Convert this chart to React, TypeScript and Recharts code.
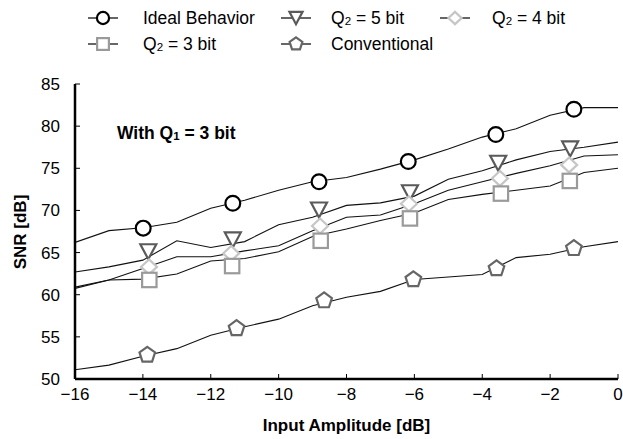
import React from 'react';
import { ComposedChart, Customized, Line, Scatter, XAxis, YAxis } from 'recharts';

// simulated SNR curves, sampled every 1 dB
const amplitudes = [-16, -15, -14, -13, -12, -11, -10, -9, -8, -7, -6, -5, -4, -3, -2, -1, 0];
const idealSnr = [66.2, 67.6, 67.95, 68.6, 70.25, 71.2, 72.4, 73.4, 73.9, 74.9, 76.0, 77.3, 78.7, 79.7, 81.3, 82.2, 82.2];
const q5Snr = [62.7, 63.3, 64.1, 66.4, 65.6, 66.3, 68.3, 69.2, 70.6, 70.9, 71.7, 73.7, 74.7, 76.0, 77.0, 77.5, 78.1];
const q4Snr = [60.9, 61.75, 63.1, 64.5, 64.5, 65.2, 65.8, 67.6, 69.2, 69.45, 70.8, 72.4, 73.4, 74.4, 75.3, 76.45, 76.6];
const q3Snr = [60.75, 61.75, 61.85, 62.45, 64.0, 64.3, 65.1, 66.9, 67.8, 68.8, 69.7, 71.3, 71.9, 72.4, 72.9, 74.5, 75.0];
const convSnr = [51.1, 51.65, 52.7, 53.6, 55.2, 56.2, 57.1, 58.7, 59.7, 60.4, 61.8, 62.1, 62.4, 64.4, 64.8, 65.7, 66.3];

// marker positions (drawn sparsely on top of the curves)
const idealMarkX = [-13.99, -11.35, -8.81, -6.18, -3.6, -1.3];
const idealMarkY = [67.9, 70.85, 73.4, 75.8, 79.0, 82.0];
const q5MarkX = [-13.84, -11.35, -8.81, -6.13, -3.53, -1.41];
const q5MarkY = [65.1, 66.5, 70.05, 72.1, 75.6, 77.3];
const q4MarkX = [-13.82, -11.4, -8.78, -6.16, -3.48, -1.44];
const q4MarkY = [63.3, 64.9, 68.15, 70.8, 73.8, 75.4];
const q3MarkX = [-13.81, -11.37, -8.76, -6.13, -3.45, -1.42];
const q3MarkY = [61.75, 63.4, 66.4, 69.05, 72.0, 73.5];
const convMarkX = [-13.87, -11.24, -8.66, -6.03, -3.58, -1.3];
const convMarkY = [52.85, 56.0, 59.3, 61.8, 63.1, 65.5];

const xTicks = [-16, -14, -12, -10, -8, -6, -4, -2, 0];
const yTicks = [50, 55, 60, 65, 70, 75, 80, 85];

const toRows = (xs: number[], ys: number[]) => xs.map((x, i) => ({ x, y: ys[i] }));

type Kind = 'circle' | 'triangle' | 'diamond' | 'square' | 'pentagon';

const FONT = '"Liberation Sans", Arial, Helvetica, sans-serif';

function Marker({ kind, cx, cy, s = 1 }: { kind: Kind; cx: number; cy: number; s?: number }) {
  const sw = 2.2;
  if (kind === 'circle') {
    return <circle cx={cx} cy={cy} r={7.4 * s} fill="#fff" stroke="#000" strokeWidth={sw} />;
  }
  if (kind === 'square') {
    const h = 7.2 * s;
    return <rect x={cx - h} y={cy - h} width={2 * h} height={2 * h} fill="#fff" stroke="#9a9a9a" strokeWidth={sw} />;
  }
  if (kind === 'diamond') {
    const w = 8 * s;
    const h = 7.5 * s;
    return (
      <polygon
        points={`${cx},${cy - h} ${cx + w},${cy} ${cx},${cy + h} ${cx - w},${cy}`}
        fill="#fff"
        stroke="#c6c6c6"
        strokeWidth={sw}
      />
    );
  }
  if (kind === 'triangle') {
    const w = 8 * s;
    const h = 7.5 * s;
    return (
      <polygon
        points={`${cx - w},${cy - h} ${cx + w},${cy - h} ${cx},${cy + h}`}
        fill="#fff"
        stroke="#5a5a5a"
        strokeWidth={sw}
      />
    );
  }
  const r = 8.2 * s;
  const pts = [0, 1, 2, 3, 4]
    .map((k) => {
      const a = -Math.PI / 2 + (k * 2 * Math.PI) / 5;
      return `${cx + r * Math.cos(a)},${cy + r * Math.sin(a)}`;
    })
    .join(' ');
  return <polygon points={pts} fill="#fff" stroke="#666" strokeWidth={sw} />;
}

const shapeOf = (kind: Kind) => (p: any) => <Marker kind={kind} cx={p.cx} cy={p.cy} />;

const minus = (v: number) => (v < 0 ? `\u2212${-v}` : `${v}`);

function QLabel({ x, y, bits, size }: { x: number; y: number; bits: number; size: number }) {
  return (
    <text x={x} y={y} fontSize={size} fontFamily={FONT} fill="#000">
      Q<tspan fontSize={size * 0.66} dy={1}>2</tspan>
      <tspan dy={-1}>{` = ${bits} bit`}</tspan>
    </text>
  );
}

function LegendItem({ kind, x, y, children }: { kind: Kind; x: number; y: number; children: React.ReactNode }) {
  return (
    <g>
      <line x1={x - 15} x2={x + 15} y1={y} y2={y} stroke="#000" strokeWidth={1.2} />
      <Marker kind={kind} cx={x} cy={y} s={0.82} />
      {children}
    </g>
  );
}

function Extras() {
  const fs = 17.5;
  return (
    <g>
      <LegendItem kind="circle" x={103} y={18}>
        <text x={143} y={24} fontSize={fs} fontFamily={FONT}>Ideal Behavior</text>
      </LegendItem>
      <LegendItem kind="triangle" x={296} y={18}>
        <QLabel x={331} y={24} bits={5} size={fs} />
      </LegendItem>
      <LegendItem kind="diamond" x={455} y={18}>
        <QLabel x={492} y={24} bits={4} size={fs} />
      </LegendItem>
      <LegendItem kind="square" x={103} y={44}>
        <QLabel x={143} y={50} bits={3} size={fs} />
      </LegendItem>
      <LegendItem kind="pentagon" x={296} y={44}>
        <text x={331} y={50} fontSize={fs} fontFamily={FONT}>Conventional</text>
      </LegendItem>

      <text x={117} y={139} fontSize={17.5} fontWeight="bold" fontFamily={FONT}>
        With Q<tspan fontSize={11.5} dy={1}>1</tspan>
        <tspan dy={-1}> = 3 bit</tspan>
      </text>

      <text
        x={0}
        y={0}
        transform="translate(26,232) rotate(-90)"
        textAnchor="middle"
        fontSize={17}
        fontWeight="bold"
        fontFamily={FONT}
      >
        SNR [dB]
      </text>
    </g>
  );
}

const series: { kind: Kind; line: number[]; mx: number[]; my: number[] }[] = [
  { kind: 'circle', line: idealSnr, mx: idealMarkX, my: idealMarkY },
  { kind: 'triangle', line: q5Snr, mx: q5MarkX, my: q5MarkY },
  { kind: 'diamond', line: q4Snr, mx: q4MarkX, my: q4MarkY },
  { kind: 'square', line: q3Snr, mx: q3MarkX, my: q3MarkY },
  { kind: 'pentagon', line: convSnr, mx: convMarkX, my: convMarkY },
];

const blankTick = () => <g />;

export default function App() {
  const tickStyle = { fill: '#000', fontSize: 17, fontFamily: FONT };
  return (
    <div style={{ position: 'absolute', left: 0, top: 0, background: '#fff' }}>
      <ComposedChart
        width={623}
        height={439}
        margin={{ top: 84, right: 5, bottom: 0, left: 0 }}
        style={{ fontFamily: FONT }}
      >
        <XAxis
          xAxisId="b"
          dataKey="x"
          type="number"
          domain={[-16, 0]}
          ticks={xTicks}
          tickFormatter={minus}
          allowDataOverflow
          height={60}
          tickSize={-5}
          tickMargin={14}
          tick={tickStyle}
          axisLine={{ stroke: '#000', strokeWidth: 2.5 }}
          tickLine={{ stroke: '#000', strokeWidth: 1 }}
          label={{
            value: 'Input Amplitude [dB]',
            position: 'insideBottom',
            offset: 8,
            style: { fontSize: 17, fontWeight: 'bold', fill: '#000', fontFamily: FONT },
          }}
        />
        <XAxis
          xAxisId="t"
          orientation="top"
          dataKey="x"
          type="number"
          domain={[-16, 0]}
          ticks={xTicks}
          allowDataOverflow
          height={0}
          tickSize={-5}
          tick={blankTick}
          axisLine={{ stroke: '#000', strokeWidth: 2.5 }}
          tickLine={{ stroke: '#000', strokeWidth: 1 }}
        />
        <YAxis
          yAxisId="l"
          dataKey="y"
          type="number"
          domain={[50, 85]}
          ticks={yTicks}
          allowDataOverflow
          width={75}
          tickSize={-5}
          tickMargin={20}
          tick={tickStyle}
          axisLine={{ stroke: '#000', strokeWidth: 2.5 }}
          tickLine={{ stroke: '#000', strokeWidth: 1 }}
        />
        <YAxis
          yAxisId="r"
          orientation="right"
          dataKey="y"
          type="number"
          domain={[50, 85]}
          ticks={yTicks}
          allowDataOverflow
          width={0}
          tickSize={-5}
          tick={blankTick}
          axisLine={{ stroke: '#000', strokeWidth: 2.5 }}
          tickLine={{ stroke: '#000', strokeWidth: 1 }}
        />
        {series.map((s) => (
          <Line
            key={`l-${s.kind}`}
            xAxisId="b"
            yAxisId="l"
            data={toRows(amplitudes, s.line)}
            dataKey="y"
            type="linear"
            stroke="#111"
            strokeWidth={1.1}
            dot={false}
            activeDot={false}
            isAnimationActive={false}
          />
        ))}
        {series.map((s) => (
          <Scatter
            key={`m-${s.kind}`}
            xAxisId="b"
            yAxisId="l"
            data={toRows(s.mx, s.my)}
            shape={shapeOf(s.kind)}
            isAnimationActive={false}
          />
        ))}
        <Customized component={Extras} />
      </ComposedChart>
    </div>
  );
}
